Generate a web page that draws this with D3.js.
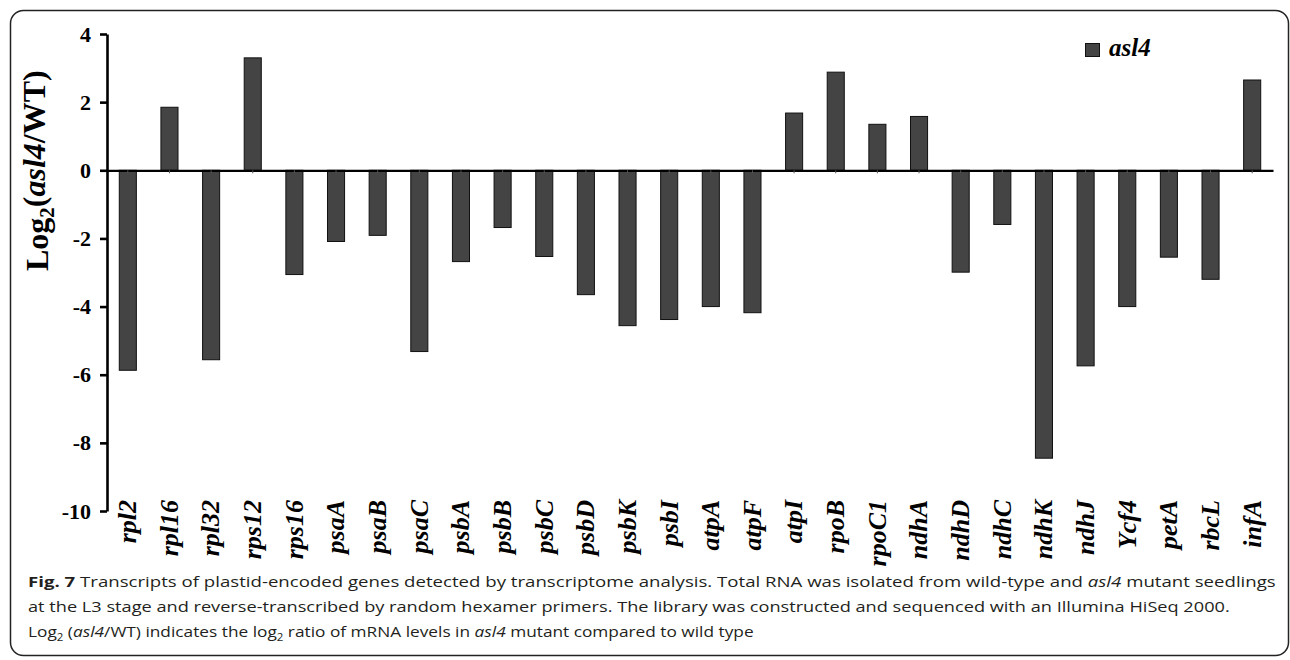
<!DOCTYPE html>
<html>
<head>
<meta charset="utf-8">
<script src="https://cdn.jsdelivr.net/npm/d3@7"></script>
<style>
  html, body { margin: 0; padding: 0; background: #fff; }
  svg { display: block; }
</style>
</head>
<body>
<svg id="chart" width="1290" height="660"></svg>
<script>
const genes = ["rpl2","rpl16","rpl32","rps12","rps16","psaA","psaB","psaC","psbA","psbB","psbC","psbD","psbK","psbI","atpA","atpF","atpI","rpoB","rpoC1","ndhA","ndhD","ndhC","ndhK","ndhJ","Ycf4","petA","rbcL","infA"];
const values = [-5.87, 1.85, -5.56, 3.3, -3.06, -2.09, -1.91, -5.32, -2.68, -1.68, -2.53, -3.65, -4.56, -4.38, -4.0, -4.18, 1.68, 2.88, 1.35, 1.58, -2.99, -1.59, -8.45, -5.74, -4.0, -2.55, -3.2, 2.65];
const yTicks = [4, 2, 0, -2, -4, -6, -8, -10];
const seriesName = "asl4";

const svg = d3.select("#chart");
const serif = "'Liberation Serif', 'Times New Roman', serif";

// frame
svg.append("rect")
  .attr("x", 10.5).attr("y", 10.5)
  .attr("width", 1278).attr("height", 645)
  .attr("rx", 13).attr("ry", 13)
  .attr("fill", "none").attr("stroke", "#222").attr("stroke-width", 1.5);

const y = d3.scaleLinear().domain([-10, 4]).range([511, 34]);
const x = d3.scaleBand().domain(genes).range([107, 1273]).paddingInner(0.59).paddingOuter(0.295);

// bars
svg.append("g").selectAll("rect")
  .data(genes.map((g, i) => ({ g, v: values[i] })))
  .join("rect")
  .attr("x", d => x(d.g))
  .attr("width", x.bandwidth())
  .attr("y", d => y(Math.max(0, d.v)))
  .attr("height", d => Math.abs(y(d.v) - y(0)))
  .attr("fill", "#444")
  .attr("stroke", "#111")
  .attr("stroke-width", 1);

// x axis at zero
const xAxis = svg.append("g")
  .attr("transform", `translate(0,${y(0)})`)
  .call(d3.axisBottom(x).tickSize(3).tickSizeOuter(0).tickFormat(""));
xAxis.select(".domain").attr("stroke", "#000").attr("stroke-width", 2.2);
xAxis.selectAll(".tick line").attr("stroke", "#555").attr("stroke-width", 1);

// y axis
const yAxis = svg.append("g")
  .attr("transform", "translate(107,0)")
  .call(d3.axisLeft(y).tickValues(yTicks).tickSize(7).tickSizeOuter(0).tickPadding(9).tickFormat(d3.format("d")));
yAxis.select(".domain").attr("stroke", "#000").attr("stroke-width", 2.6);
yAxis.selectAll(".tick line").attr("stroke", "#000").attr("stroke-width", 2.6);
yAxis.selectAll(".tick text")
  .attr("font-family", serif).attr("font-weight", "bold")
  .attr("font-size", 22).attr("fill", "#000")
  .text(d => d < 0 ? "-" + Math.abs(d) : d);

// category labels
svg.append("g").selectAll("text")
  .data(genes)
  .join("text")
  .attr("transform", d => `translate(${x(d) + x.bandwidth() / 2},500) rotate(-90)`)
  .attr("dy", "0.32em")
  .attr("text-anchor", "end")
  .attr("font-family", serif).attr("font-weight", "bold").attr("font-style", "italic")
  .attr("font-size", 26).attr("fill", "#000")
  .text(d => d);

// y title
const yt = svg.append("text")
  .attr("transform", "translate(48,271) rotate(-90)")
  .attr("text-anchor", "start")
  .attr("font-family", serif).attr("font-weight", "bold")
  .attr("font-size", 32).attr("fill", "#000");
yt.append("tspan").text("Log");
yt.append("tspan").attr("font-size", 21).attr("dy", "0.3em").text("2");
yt.append("tspan").attr("dy", "-0.3em").text("(");
yt.append("tspan").attr("font-style", "italic").text("asl4");
yt.append("tspan").text("/WT)");

// legend
svg.append("rect")
  .attr("x", 1085.5).attr("y", 43.5).attr("width", 14).attr("height", 13)
  .attr("fill", "#444").attr("stroke", "#111").attr("stroke-width", 1);
svg.append("text")
  .attr("x", 1109).attr("y", 56)
  .attr("font-family", serif).attr("font-weight", "bold").attr("font-style", "italic")
  .attr("font-size", 25).attr("fill", "#000")
  .text(seriesName);

// caption
const capFont = "'Open Sans', 'Noto Sans', sans-serif";
const capLines = [
  { y: 587, w: 1248, parts: [
    { t: "Fig. 7", b: true }, { t: " Transcripts of plastid-encoded genes detected by transcriptome analysis. Total RNA was isolated from wild-type and " },
    { t: "asl4", i: true }, { t: " mutant seedlings" } ] },
  { y: 612, w: 1202, parts: [
    { t: "at the L3 stage and reverse-transcribed by random hexamer primers. The library was constructed and sequenced with an Illumina HiSeq 2000." } ] },
  { y: 637, w: 726, parts: [
    { t: "Log" }, { t: "2", sub: true }, { t: " (" }, { t: "asl4", i: true }, { t: "/WT) indicates the log" }, { t: "2", sub: true },
    { t: " ratio of mRNA levels in " }, { t: "asl4", i: true }, { t: " mutant compared to wild type" } ] }
];
const capX = 28;
capLines.forEach(line => {
  const t = svg.append("text")
    .attr("x", capX).attr("y", line.y)
    .attr("font-family", capFont).attr("font-size", 15).attr("fill", "#231f20");
  let shifted = false;
  line.parts.forEach(p => {
    const s = t.append("tspan").text(p.t);
    if (p.b) s.attr("font-weight", "bold");
    if (p.i) s.attr("font-style", "italic");
    if (p.sub) { s.attr("font-size", 10).attr("dy", 4); shifted = true; }
    else if (shifted) { s.attr("dy", -4); shifted = false; }
  });
  const bw = t.node().getBBox().width;
  const k = line.w / bw;
  t.attr("transform", `translate(${capX},0) scale(${k},1) translate(${-capX},0)`);
});
</script>
</body>
</html>
